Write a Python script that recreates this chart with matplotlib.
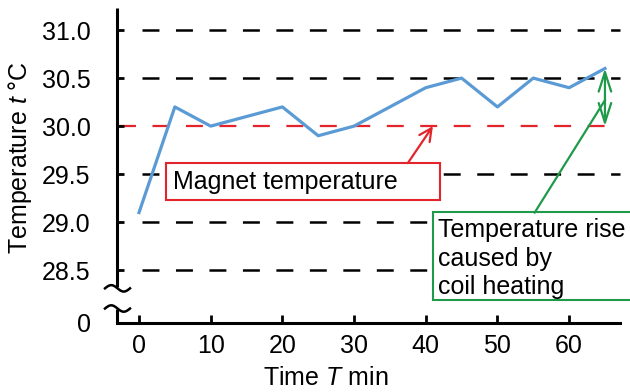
import numpy as np
import matplotlib
matplotlib.use('Agg')
import matplotlib.pyplot as plt
from matplotlib.patches import Rectangle

# data
time_min = [0, 5, 10, 20, 25, 30, 40, 45, 50, 55, 60, 65]
temp_c = [29.1, 30.2, 30.0, 30.2, 29.9, 30.0, 30.4, 30.5, 30.2, 30.5, 30.4, 30.6]
magnet_temp = 30.0
grid_levels = [28.5, 29.0, 29.5, 30.5, 31.0]
x_ticks = [0, 10, 20, 30, 40, 50, 60]
y_ticks = [28.5, 29.0, 29.5, 30.0, 30.5, 31.0]
y_tick_labels = ['28.5', '29.0', '29.5', '30.0', '30.5', '31.0']

plt.rcParams['font.family'] = ['Liberation Sans', 'DejaVu Sans']
plt.rcParams['mathtext.fontset'] = 'custom'
plt.rcParams['mathtext.it'] = 'Liberation Sans:italic'
plt.rcParams['mathtext.rm'] = 'Liberation Sans'
plt.rcParams['lines.scale_dashes'] = False

blue = '#5b9bd5'
red = '#e3242b'
green = '#1f9a4a'
fs = 18

fig = plt.figure(figsize=(6.3, 3.92), dpi=100)
ax = fig.add_axes([117 / 630, 69 / 392, 503 / 630, 315 / 392])
xmin, xmax = -3.07, 67.1
ymin, ymax = 27.95, 31.23
ax.set_xlim(xmin, xmax)
ax.set_ylim(ymin, ymax)

# dashed reference lines
for lv in grid_levels:
    ax.plot([0.4, 67.1], [lv, lv], color='black', lw=1.8,
            linestyle=(0, (12.2, 11.9)), zorder=1, clip_on=False)
ax.plot([-2.8, 67.1], [magnet_temp, magnet_temp], color=red, lw=1.6,
        linestyle=(0, (12.2, 11.9)), zorder=1, clip_on=False)

# measured temperature
ax.plot(time_min, temp_c, color=blue, lw=2.3, zorder=3)

# spines
for s in ['top', 'right', 'left']:
    ax.spines[s].set_visible(False)
ax.spines['bottom'].set_linewidth(2.2)

# left spine with a break
ax.plot([0, 0], [0.114, 1.0], color='black', lw=2.2, transform=ax.transAxes,
        clip_on=False, solid_capstyle='butt', zorder=4)
ax.plot([0, 0], [0.0, 0.044], color='black', lw=2.2, transform=ax.transAxes,
        clip_on=False, solid_capstyle='butt', zorder=4)
t = np.linspace(0, 1, 40)
for yc in [0.110, 0.046]:
    ax.plot((-12 + 25 * t) / 503, yc + 3.2 * np.sin(2 * np.pi * t) / 315,
            color='black', lw=1.8, transform=ax.transAxes, clip_on=False, zorder=4)

# ticks
ax.set_xticks(x_ticks)
ax.set_xticklabels([str(v) for v in x_ticks])
ax.set_yticks([ymin] + y_ticks)
ax.set_yticklabels(['0'] + y_tick_labels)
ax.tick_params(axis='y', direction='in', length=5, width=2, pad=19, labelsize=fs)
ax.tick_params(axis='x', direction='in', length=6, width=2, pad=8, labelsize=fs)

ax.set_xlabel('Time $\\it{T}$ min', fontsize=fs)
ax.xaxis.set_label_coords(0.414, -0.175)
ax.xaxis.label.set_va('center')
ax.set_ylabel('Temperature $\\it{t}$ °C', fontsize=fs)
ax.yaxis.set_label_coords(-0.193, 0.524)
ax.yaxis.label.set_va('center')

# magnet temperature callout
ax.add_patch(Rectangle((3.77, 29.23), 38.2, 0.385, ec=red, fc='white', lw=1.5,
                       zorder=5, clip_on=False))
ax.text(4.75, 29.42, 'Magnet temperature', fontsize=fs, va='center', ha='left', zorder=6)
ax.annotate('', xy=(41.0, magnet_temp), xytext=(37.5, 29.615),
            arrowprops=dict(arrowstyle='->,head_length=0.9,head_width=0.45',
                            color=red, lw=1.6, shrinkA=0, shrinkB=0), zorder=6)

# coil heating callout
ax.add_patch(Rectangle((41.0, 28.19), 28.0, 0.914, ec=green, fc='white', lw=1.5,
                       zorder=5, clip_on=False))
ax.text(41.7, 28.62, 'Temperature rise\ncaused by\ncoil heating', fontsize=fs,
        va='center', ha='left', linespacing=1.24, zorder=6)
ax.annotate('', xy=(time_min[-1], temp_c[-1]), xytext=(time_min[-1], magnet_temp),
            arrowprops=dict(arrowstyle='<->,head_length=1.4,head_width=0.45',
                            color=green, lw=1.6, shrinkA=0, shrinkB=0), zorder=6)
ax.plot([55.2, time_min[-1]], [29.10, 30.27], color=green, lw=1.6, zorder=6)

fig.savefig('out.png', dpi=100)
